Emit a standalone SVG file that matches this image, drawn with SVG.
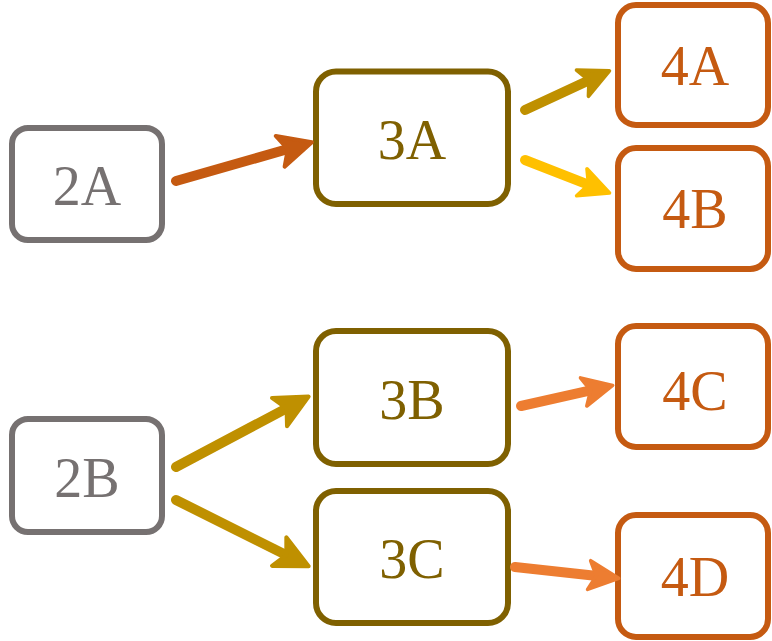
<svg xmlns="http://www.w3.org/2000/svg" width="772" height="641" viewBox="0 0 772 641">
<style>
.box{fill:#fff;stroke-width:6}
.g{stroke:#767171}.o{stroke:#7F6000}.r{stroke:#C55A11}
.t{font-family:"Liberation Serif","Times New Roman",serif;font-size:56px;text-anchor:middle}
.tg{fill:#767171}.to{fill:#7F6000}.tr{fill:#C55A11}
.ln{fill:none;stroke-width:10;stroke-linecap:round}
.hd{stroke-width:4;stroke-linejoin:round}
</style>
<defs>
<path id="head" d="M3,0 L-30,-16 L-22,0 L-30,16 Z"/>
</defs>
<rect width="772" height="641" fill="#fff"/>
<g id="n2A"><rect class="box g" x="12" y="128" width="150" height="112" rx="16"/><text class="t tg" x="87" y="205">2A</text></g>
<g id="n2B"><rect class="box g" x="12" y="419" width="150" height="113" rx="16"/><text class="t tg" x="87" y="497">2B</text></g>
<g id="n3A"><rect class="box o" x="316" y="71.5" width="192" height="132.5" rx="20"/><text class="t to" x="412" y="159">3A</text></g>
<g id="n3B"><rect class="box o" x="316" y="331" width="192" height="133" rx="20"/><text class="t to" x="412" y="419">3B</text></g>
<g id="n3C"><rect class="box o" x="316" y="491" width="192" height="132" rx="20"/><text class="t to" x="412" y="578">3C</text></g>
<g id="n4A"><rect class="box r" x="618" y="5" width="150" height="120" rx="18"/><text class="t tr" x="695" y="85">4A</text></g>
<g id="n4B"><rect class="box r" x="618" y="148" width="150" height="121" rx="18"/><text class="t tr" x="695" y="228">4B</text></g>
<g id="n4C"><rect class="box r" x="618" y="326" width="150" height="121" rx="18"/><text class="t tr" x="695" y="410">4C</text></g>
<g id="n4D"><rect class="box r" x="618" y="515" width="150" height="122" rx="18"/><text class="t tr" x="695" y="596">4D</text></g>
<g id="connectors">
<g stroke="#C55A11" fill="#C55A11"><line class="ln" x1="176" y1="181" x2="297.5" y2="146.3"/><use class="hd" href="#head" transform="translate(309,143) rotate(-16.1)"/></g>
<g stroke="#BF9000" fill="#BF9000"><line class="ln" stroke-width="8" x1="525" y1="110" x2="596.1" y2="77"/><use class="hd" href="#head" transform="translate(607,72) rotate(-24.6) scale(0.9)"/></g>
<g stroke="#FFC000" fill="#FFC000"><line class="ln" stroke-width="8" x1="525" y1="160" x2="595.8" y2="187.7"/><use class="hd" href="#head" transform="translate(607,192) rotate(21.1) scale(0.9)"/></g>
<g stroke="#BF9000" fill="#BF9000"><line class="ln" x1="176" y1="467" x2="295.4" y2="403.6"/><use class="hd" href="#head" transform="translate(306,398) rotate(-27.96)"/></g>
<g stroke="#BF9000" fill="#BF9000"><line class="ln" x1="176" y1="500" x2="295.3" y2="559.6"/><use class="hd" href="#head" transform="translate(306,565) rotate(26.57)"/></g>
<g stroke="#ED7D31" fill="#ED7D31"><line class="ln" stroke-width="8" x1="521" y1="406" x2="598.3" y2="388.6"/><use class="hd" href="#head" transform="translate(610,386) rotate(-12.7) scale(0.9)"/></g>
<g stroke="#ED7D31" fill="#ED7D31"><line class="ln" stroke-width="8" x1="515" y1="567" x2="604.1" y2="576.7"/><use class="hd" href="#head" transform="translate(616,578) rotate(6.2) scale(0.9)"/></g>
</g>
</svg>
